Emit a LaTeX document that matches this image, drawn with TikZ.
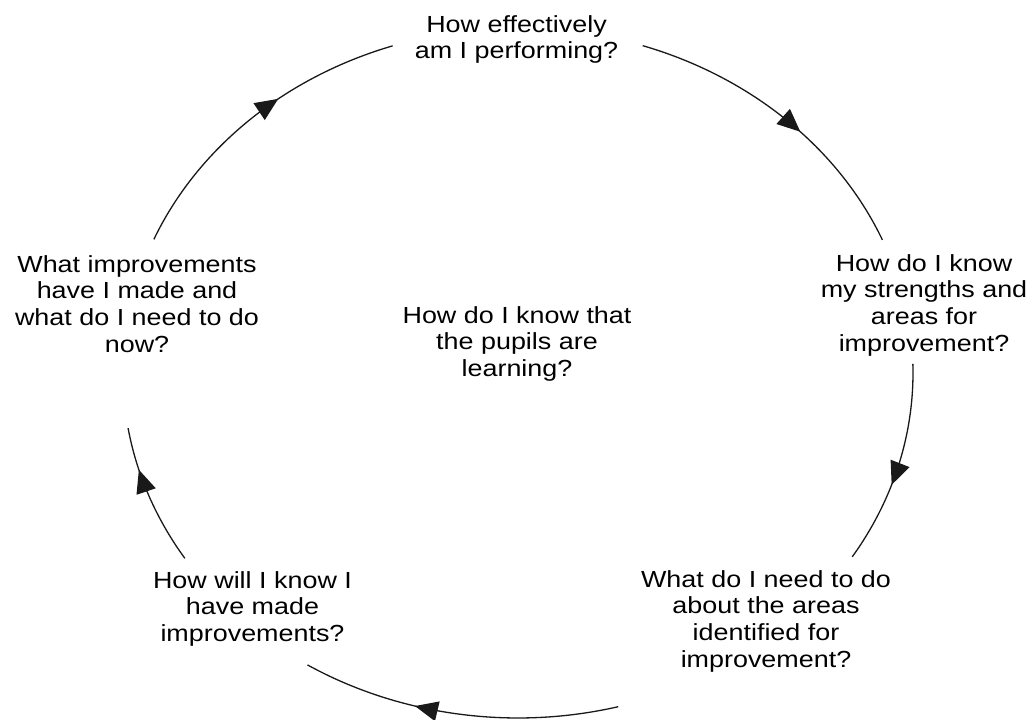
\documentclass[tikz,border=0pt]{standalone}
\usepackage{fontspec}
\setmainfont{Liberation Sans}[FakeStretch=1.155]
\usetikzlibrary{arrows.meta,decorations.markings}
\tikzset{
  lbl/.style={align=center, inner sep=0pt, anchor=north, text=black,
    font=\fontsize{23.3}{26.8}\selectfont},
  cyc/.style={line width=1.3pt, black!90,
    decoration={markings, mark=at position #1 with {\arrow{Triangle[length=23pt,width=20pt]}}},
    postaction={decorate}},
}
\begin{document}
\begin{tikzpicture}[x=1pt,y=-1pt]
\useasboundingbox (0,0) rectangle (1034,720);
% labels
\node[lbl] (n1) at (516.5,15) {How effectively\\am I performing?};
\node[lbl] (n2) at (924,254) {How do I know\\my strengths and\\areas for\\improvement?};
\node[lbl] (n3) at (766,570) {What do I need to do\\about the areas\\identified for\\improvement?};
\node[lbl] (n4) at (252.5,571) {How will I know I\\have made\\improvements?};
\node[lbl] (n5) at (137,255) {What improvements\\have I made and\\what do I need to do\\now?};
\node[lbl] (n6) at (517,306) {How do I know that\\the pupils are\\learning?};
% cycle arcs
\coordinate (C) at (518,373);
\path (C) ++(202.8:395 and 345) coordinate (a1);
\path (C) ++(288.4:395 and 345) coordinate (a2);
\path (C) ++(-1.5:395 and 345) coordinate (a3);
\path (C) ++(75.3:395 and 345) coordinate (a4);
\path (C) ++(147.5:395 and 345) coordinate (a5);
\draw[cyc=0.6] (a1) arc[start angle=202.8, end angle=251.5, x radius=395, y radius=345];
\draw[cyc=0.57] (a2) arc[start angle=288.4, end angle=337.3, x radius=395, y radius=345];
\draw[cyc=0.6] (a3) arc[start angle=-1.5, end angle=32.2, x radius=395, y radius=345];
\draw[cyc=0.64] (a4) arc[start angle=75.3, end angle=122.2, x radius=395, y radius=345];
\draw[cyc=0.7] (a5) arc[start angle=147.5, end angle=170.8, x radius=395, y radius=345];
\end{tikzpicture}
\end{document}
